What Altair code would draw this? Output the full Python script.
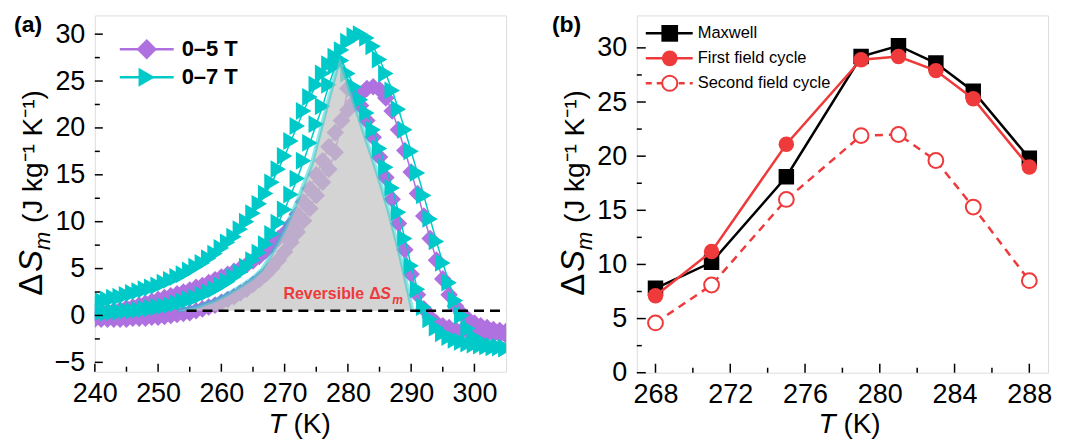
import altair as alt
import pandas as pd

FONT = "Liberation Sans"
PURPLE = "#B071E0"
CYAN = "#00C9C9"
RED = "#EE3A3A"
W = 412
HA = 357
HB = 358

# ---------------- Panel (a) data ----------------
T_a = [240, 241, 242, 243, 244, 245, 246, 247, 248, 249,
       250, 251, 252, 253, 254, 255, 256, 257, 258, 259,
       260, 261, 262, 263, 264, 265, 266, 267, 268, 269,
       270, 271, 272, 273, 274, 275, 276, 277, 278, 279,
       280, 281, 282, 283, 284, 285, 286, 287, 288, 289,
       290, 291, 292, 293, 294, 295, 296, 297, 298, 299,
       300, 301, 302, 303, 304, 305]

# 0-5 T, outer loop branch
p5_outer = [0.2, 0.3, 0.4, 0.5, 0.6, 0.8, 0.9, 1.1, 1.3, 1.5,
            1.7, 1.9, 2.1, 2.3, 2.5, 2.7, 3.0, 3.2, 3.5, 3.8,
            4.1, 4.4, 4.7, 5.0, 5.4, 5.8, 6.3, 6.9, 7.6, 8.2,
            8.8, 9.7, 10.8, 12.1, 13.5, 15.0, 16.5, 18.0, 19.5, 20.8,
            21.9, 22.8, 23.6, 24.2, 24.4, 24.1, 23.2, 21.8, 19.8, 17.6,
            15.3, 13.0, 10.6, 8.2, 5.9, 3.9, 2.2, 1.0, 0.2, -0.4,
            -0.8, -1.1, -1.3, -1.5, -1.6, -1.7]
# 0-5 T, inner loop branch
p5_inner = [-0.4, -0.4, -0.4, -0.4, -0.4, -0.4, -0.3, -0.3, -0.3, -0.2,
            -0.2, -0.1, 0.0, 0.1, 0.2, 0.3, 0.5, 0.7, 0.9, 1.1,
            1.4, 1.7, 2.0, 2.4, 2.8, 3.3, 3.8, 4.4, 5.1, 5.9,
            6.8, 7.8, 8.9, 10.1, 11.4, 12.8, 14.2, 15.6, 17.4, 20.8,
            24.2, 23.8, 22.4, 20.8, 19.0, 16.9, 14.7, 12.4, 9.8, 7.0,
            4.4, 2.2, 0.7, -0.2, -0.8, -1.1, -1.3, -1.5, -1.6, -1.7,
            -1.8, -1.9, -1.9, -2.0, -2.0, -2.1]
# 0-7 T, outer loop branch
c7_outer = [1.5, 1.6, 1.7, 1.9, 2.0, 2.2, 2.4, 2.6, 2.8, 3.0,
            3.2, 3.5, 3.8, 4.1, 4.4, 4.8, 5.2, 5.6, 6.1, 6.6,
            7.2, 7.8, 8.4, 9.2, 10.0, 10.9, 11.9, 13.0, 14.2, 15.6,
            17.0, 18.6, 20.2, 21.8, 23.3, 24.6, 25.8, 26.8, 27.6, 28.3,
            29.2, 29.8, 30.0, 29.6, 28.7, 27.3, 25.8, 24.0, 22.0, 19.8,
            17.5, 15.2, 12.8, 10.3, 7.9, 5.6, 3.5, 1.6, 0.0, -1.4,
            -2.3, -2.8, -3.1, -3.3, -3.4, -3.5]
# 0-7 T, inner loop branch
c7_inner = [0.3, 0.3, 0.3, 0.4, 0.4, 0.5, 0.5, 0.6, 0.7, 0.8,
            0.9, 1.0, 1.1, 1.3, 1.5, 1.7, 1.9, 2.2, 2.5, 2.8,
            3.2, 3.6, 4.1, 4.6, 5.2, 5.9, 6.7, 7.6, 8.7, 9.9,
            11.3, 12.9, 14.6, 16.5, 18.4, 20.4, 22.3, 24.6, 26.6, 27.2,
            25.8, 24.4, 23.0, 21.6, 19.8, 17.8, 15.8, 13.6, 11.0, 8.2,
            5.3, 2.8, 0.9, -0.4, -1.3, -1.9, -2.3, -2.6, -2.8, -3.0,
            -3.1, -3.2, -3.3, -3.4, -3.4, -3.5]

# reversible region outline
rev_T = [253, 256, 259, 261, 263, 265, 266.4, 268, 270, 272, 274.3, 276.2,
         278.7, 280, 282, 284, 285.2, 286.5, 288, 289, 290.2]
rev_v = [0.5, 0.9, 1.6, 2.3, 3.1, 4.0, 4.9, 6.6, 9.2, 12.2, 16.2, 21.1,
         27.5, 24.8, 20.6, 16.5, 14.0, 11.0, 7.1, 4.2, 0.5]
rev_base = 0.5
dash_from = 254.5
dash_to = 305

xa_labels = [240, 250, 260, 270, 280, 290, 300]
xa_minor = [245, 255, 265, 275, 285, 295]
ya_labels = [-5, 0, 5, 10, 15, 20, 25, 30]
ya_minor = [-2.5, 2.5, 7.5, 12.5, 17.5, 22.5, 27.5]

# ---------------- Panel (b) data ----------------
T_b = [268, 271, 275, 279, 281, 283, 285, 288]
maxwell = [7.8, 10.2, 18.1, 29.2, 30.2, 28.6, 26.0, 19.8]
first_cycle = [7.1, 11.2, 21.1, 28.9, 29.2, 27.9, 25.3, 19.0]
second_cycle = [4.6, 8.1, 16.0, 21.9, 22.0, 19.6, 15.3, 8.5]

xb_labels = [268, 272, 276, 280, 284, 288]
xb_minor = [270, 274, 278, 282, 286]
yb_labels = [0, 5, 10, 15, 20, 25, 30]
yb_minor = [2.5, 7.5, 12.5, 17.5, 22.5, 27.5]

# ---------------- helpers ----------------
xa_scale = alt.Scale(domain=[240, 305], nice=False, zero=False)
ya_scale = alt.Scale(domain=[-6, 32], nice=False, zero=False)
xb_scale = alt.Scale(domain=[267, 289], nice=False, zero=False)
yb_scale = alt.Scale(domain=[0, 33], nice=False, zero=False)


def make_axis(vals, pad):
    return alt.Axis(values=vals, title=None, ticks=False, tickSize=0, domain=False,
                    grid=False, labelFont=FONT, labelFontSize=27, labelColor="black",
                    labelPadding=pad, labelFlush=False, labelOverlap=False)


ax_xa = make_axis(xa_labels, 9)
ax_ya = make_axis(ya_labels, 10)
ax_xb = make_axis(xb_labels, 9)
ax_yb = make_axis(yb_labels, 10)

DUMMY = pd.DataFrame({"k": [0]})


def XE(sc, ax):
    return alt.X("x:Q", scale=sc, axis=ax)


def YE(sc, ax):
    return alt.Y("y:Q", scale=sc, axis=ax)


def series(T, v, color, shape, size, sx, sy, axx, axy, line_w=1.5, dash=None,
           open_marker=False):
    df = pd.DataFrame({"x": T, "y": v})
    base = alt.Chart(df)
    lkw = dict(color=color, strokeWidth=line_w, clip=True)
    if dash:
        lkw["strokeDash"] = dash
    line = base.mark_line(**lkw).encode(x=XE(sx, axx), y=YE(sy, axy))
    if open_marker:
        pts = base.mark_point(shape=shape, filled=True, fill="white", stroke=color,
                              strokeWidth=2, size=size, opacity=1, clip=True)
    else:
        pts = base.mark_point(shape=shape, filled=True, color=color, size=size,
                              opacity=1, clip=True)
    pts = pts.encode(x=XE(sx, axx), y=YE(sy, axy))
    return line, pts


def txt(s, x, y, size, weight="normal", style="normal", color="black", angle=0,
        align="left", baseline="alphabetic"):
    return alt.Chart(DUMMY).mark_text(
        text=s, font=FONT, fontSize=size, fontWeight=weight, fontStyle=style,
        color=color, angle=angle, align=align, baseline=baseline
    ).encode(x=alt.value(x), y=alt.value(y))


def xticks(vals, length, sx, axx, H):
    df = pd.DataFrame({"x": vals})
    return alt.Chart(df).mark_rule(color="black", strokeWidth=1.5).encode(
        x=XE(sx, axx), y=alt.value(H), y2=alt.value(H - length))


def yticks(vals, length, sy, axy):
    df = pd.DataFrame({"y": vals})
    return alt.Chart(df).mark_rule(color="black", strokeWidth=1.5).encode(
        y=YE(sy, axy), x=alt.value(0), x2=alt.value(length))


def legend_entry(x1, x2, xm, xt, y, color, shape, msize, label, fsize, weight,
                 dash=None, open_marker=False, lw=2.5):
    rkw = dict(color=color, strokeWidth=lw)
    if dash:
        rkw["strokeDash"] = dash
    r = alt.Chart(DUMMY).mark_rule(**rkw).encode(
        x=alt.value(x1), x2=alt.value(x2), y=alt.value(y))
    if open_marker:
        m = alt.Chart(DUMMY).mark_point(shape=shape, filled=True, fill="white",
                                        stroke=color, strokeWidth=2, size=msize,
                                        opacity=1)
    else:
        m = alt.Chart(DUMMY).mark_point(shape=shape, filled=True, color=color,
                                        size=msize, opacity=1)
    m = m.encode(x=alt.value(xm), y=alt.value(y))
    t = txt(label, xt, y, fsize, weight=weight, baseline="middle")
    return [r, m, t]


def ytitle():
    return [
        txt("Δ", -53, 281, 33, angle=270),
        txt("S", -53, 257, 33, style="italic", angle=270),
        txt("m", -45, 235, 22, style="italic", angle=270),
        txt("(J kg⁻¹ K⁻¹)", -53, 208, 28, angle=270),
    ]


# ---------------- Panel (a) ----------------
layers_a = []
for vals, col, shp, sz in [(p5_outer, PURPLE, "diamond", 310),
                           (p5_inner, PURPLE, "diamond", 310),
                           (c7_outer, CYAN, "triangle-right", 320),
                           (c7_inner, CYAN, "triangle-right", 320)]:
    l, p = series(T_a, vals, col, shp, sz, xa_scale, ya_scale, ax_xa, ax_ya)
    layers_a += [l, p]

rev_df = pd.DataFrame({"x": rev_T, "y": rev_v})
layers_a.append(alt.Chart(rev_df).mark_area(color="#c4c4c4", opacity=0.72, clip=True).encode(
    x=XE(xa_scale, ax_xa), y=YE(ya_scale, ax_ya), y2=alt.datum(rev_base)))
layers_a.append(alt.Chart(rev_df).mark_line(color=CYAN, strokeWidth=4, opacity=0.45,
                                             clip=True).encode(
    x=XE(xa_scale, ax_xa), y=YE(ya_scale, ax_ya)))
dash_df = pd.DataFrame({"x": [dash_from], "x2": [dash_to], "y": [rev_base]})
layers_a.append(alt.Chart(dash_df).mark_rule(color="black", strokeWidth=2.5,
                                             strokeDash=[10, 6], clip=True).encode(
    x=XE(xa_scale, ax_xa), x2=alt.X2("x2:Q"), y=YE(ya_scale, ax_ya)))

layers_a += [
    xticks(xa_labels, 8, xa_scale, ax_xa, HA),
    xticks(xa_minor, 5, xa_scale, ax_xa, HA),
    yticks(ya_labels, 8, ya_scale, ax_ya),
    yticks(ya_minor, 5, ya_scale, ax_ya),
]
layers_a += [
    txt("Reversible", 189, 279, 16, weight="bold", color=RED, baseline="middle"),
    txt("Δ", 275, 279, 16, weight="bold", color=RED, baseline="middle"),
    txt("S", 286, 279, 16, weight="bold", style="italic", color=RED, baseline="middle"),
    txt("m", 298, 285, 12, weight="bold", style="italic", color=RED, baseline="middle"),
]
layers_a += legend_entry(25, 79, 52, 87, 34, PURPLE, "diamond", 420, "0–5 T", 22, "bold")
layers_a += legend_entry(25, 79, 52, 87, 62, CYAN, "triangle-right", 360, "0–7 T", 22, "bold")
layers_a += [
    txt("(a)", -81, -1, 23, weight="bold", baseline="top"),
    txt("T", 174, 418, 28, style="italic"),
    txt("(K)", 199, 418, 28),
]
layers_a += ytitle()

panel_a = alt.layer(*layers_a).properties(width=W, height=HA)

# ---------------- Panel (b) ----------------
layers_b = []
l, p = series(T_b, maxwell, "black", "square", 240, xb_scale, yb_scale, ax_xb, ax_yb, line_w=2.5)
layers_b += [l, p]
l, p = series(T_b, first_cycle, RED, "circle", 240, xb_scale, yb_scale, ax_xb, ax_yb, line_w=2.5)
layers_b += [l, p]
l, p = series(T_b, second_cycle, RED, "circle", 220, xb_scale, yb_scale, ax_xb, ax_yb,
              line_w=2.5, dash=[8, 6], open_marker=True)
layers_b += [l, p]
layers_b += [
    xticks(xb_labels, 9, xb_scale, ax_xb, HB),
    xticks(xb_minor, 5, xb_scale, ax_xb, HB),
    yticks(yb_labels, 9, yb_scale, ax_yb),
    yticks(yb_minor, 5, yb_scale, ax_yb),
]
layers_b += legend_entry(9, 56, 33, 61, 18, "black", "square", 280, "Maxwell", 16.5, "normal")
layers_b += legend_entry(9, 56, 33, 61, 43, RED, "circle", 250, "First field cycle", 16.5, "normal")
layers_b += legend_entry(9, 56, 33, 61, 68, RED, "circle", 230, "Second field cycle", 16.5,
                         "normal", dash=[6, 5], open_marker=True)
layers_b += [
    txt("(b)", -85, -1, 23, weight="bold", baseline="top"),
    txt("T", 182, 418, 28, style="italic"),
    txt("(K)", 207, 418, 28),
]
layers_b += ytitle()

panel_b = alt.layer(*layers_b).properties(width=W, height=HB)

chart = alt.hconcat(panel_a, panel_b, spacing=44).properties(
    padding={"left": 5, "top": 5, "right": 5, "bottom": 0}
).configure_view(stroke="black", strokeWidth=1.5).configure(font=FONT)

chart.save("out.html", embed_options={"renderer": "svg", "actions": False})
